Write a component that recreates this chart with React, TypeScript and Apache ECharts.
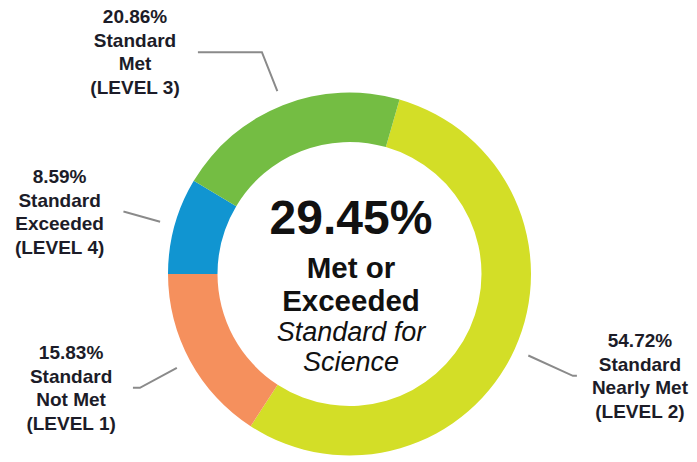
import React, { useEffect, useRef } from 'react';
import * as echarts from 'echarts';

// ---- data ----
const categories = ['Standard Nearly Met', 'Standard Not Met', 'Standard Exceeded', 'Standard Met'];
const labelNames = [
  ['Standard', 'Nearly Met'],
  ['Standard', 'Not Met'],
  ['Standard', 'Exceeded'],
  ['Standard', 'Met'],
];
const levels = ['(LEVEL 2)', '(LEVEL 1)', '(LEVEL 4)', '(LEVEL 3)'];
const values = [54.72, 15.83, 8.59, 20.86];
const centerLines = ['29.45%', 'Met or', 'Exceeded', 'Standard for', 'Science'];

// ---- styles ----
const colors = ['#d3de27', '#f5905d', '#1195d1', '#74bd43'];
const lineLen = [64, 57, 52, 57];
const lineLen2 = [4, 7, 1, 64];
const labelDist = [15, 17, 19, 18];
const CX = 349.5;
const CY = 274;
const centerOffsets = [-56.5, -7, 26.7, 57.7, 87.7];
const centerStyles = [
  { fontSize: 48, fontWeight: 'bold', fontStyle: 'normal' },
  { fontSize: 29.5, fontWeight: 'bold', fontStyle: 'normal' },
  { fontSize: 29.5, fontWeight: 'bold', fontStyle: 'normal' },
  { fontSize: 27, fontWeight: 'normal', fontStyle: 'italic' },
  { fontSize: 27, fontWeight: 'normal', fontStyle: 'italic' },
];
const FONT = '"Liberation Sans", Arial, sans-serif';
const TEXT = '#1c1c28';

export default function App() {
  const ref = useRef<HTMLDivElement>(null);
  useEffect(() => {
    if (!ref.current) return;
    const chart = echarts.init(ref.current, undefined, { renderer: 'svg' });
    const data = categories.map((name, i) => ({
      name,
      value: values[i],
      itemStyle: { color: colors[i] },
      label: {
        distanceToLabelLine: labelDist[i],
        formatter: () =>
          [values[i].toFixed(2) + '%', ...labelNames[i], levels[i]].map((t) => `{a|${t}}`).join('\n'),
      },
      labelLine: { length: lineLen[i], length2: lineLen2[i] },
    }));
    chart.setOption({
      animation: false,
      backgroundColor: '#ffffff',
      series: [
        {
          type: 'pie',
          center: [CX, CY],
          radius: [132, 181.5],
          startAngle: 74,
          clockwise: true,
          avoidLabelOverlap: false,
          silent: true,
          emphasis: { disabled: true },
          itemStyle: { borderWidth: 0 },
          label: {
            show: true,
            position: 'outside',
            alignTo: 'none',
            edgeDistance: 0,
            rich: {
              a: {
                fontFamily: FONT,
                fontSize: 19,
                fontWeight: 'bold',
                lineHeight: 23.5,
                color: TEXT,
                align: 'center',
              },
            },
          },
          labelLine: {
            show: true,
            smooth: false,
            lineStyle: { color: '#8a8a8a', width: 2 },
          },
          labelLayout: (params: any) => {
            const pts = params.labelLinePoints;
            if (!pts || pts.length < 2) return {};
            const p0 = pts[0];
            const p1 = pts[1];
            const dx = p1[0] - p0[0];
            const dy = p1[1] - p0[1];
            const len = Math.hypot(dx, dy);
            if (len < 1e-6) return {};
            const gap = 15;
            const np = pts.map((p: number[]) => [p[0], p[1]]);
            np[0] = [p0[0] + (dx / len) * gap, p0[1] + (dy / len) * gap];
            return { labelLinePoints: np };
          },
          data,
        },
      ],
      graphic: centerLines.map((t, i) => ({
        type: 'text',
        x: CX + 1.5,
        y: CY + centerOffsets[i],
        silent: true,
        style: {
          text: t,
          fill: '#111111',
          fontFamily: FONT,
          fontSize: centerStyles[i].fontSize,
          fontWeight: centerStyles[i].fontWeight,
          fontStyle: centerStyles[i].fontStyle,
          align: 'center',
          verticalAlign: 'middle',
        },
      })),
    });
    return () => chart.dispose();
  }, []);
  return (
    <div
      ref={ref}
      style={{ position: 'fixed', left: 0, top: 0, width: 697, height: 462, background: '#fff' }}
    />
  );
}
